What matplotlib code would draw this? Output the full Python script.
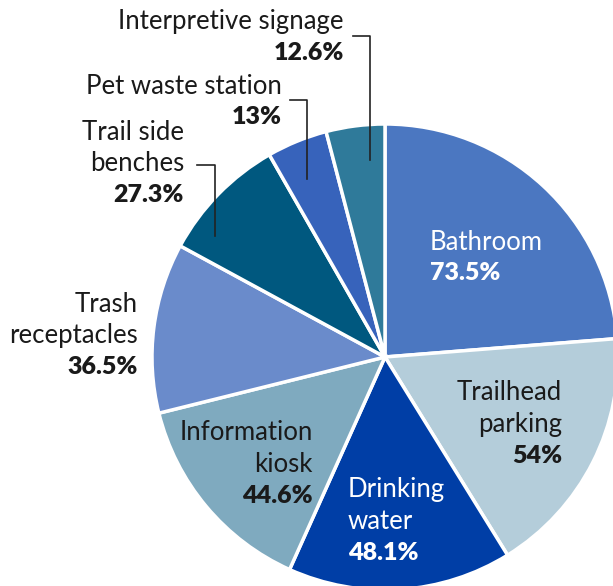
import matplotlib
matplotlib.use("Agg")
import matplotlib.pyplot as plt

categories = ["Bathroom", "Trailhead parking", "Drinking water", "Information kiosk",
              "Trash receptacles", "Trail side benches", "Pet waste station", "Interpretive signage"]
values = [73.5, 54, 48.1, 44.6, 36.5, 27.3, 13, 12.6]
pct_labels = ["73.5%", "54%", "48.1%", "44.6%", "36.5%", "27.3%", "13%", "12.6%"]
colors = ["#4b77c1", "#b4cdda", "#003ea6", "#7faabf", "#6a8bcb", "#00587f", "#3763bb", "#2f7a9a"]

W, H = 613, 586
fig = plt.figure(figsize=(W / 100, H / 100), dpi=100)
ax = fig.add_axes([0, 0, 1, 1])

cx, cy, R = 385, 357, 233
wedges, _ = ax.pie(values, colors=colors, startangle=90, counterclock=False,
                   radius=R, center=(cx, cy),
                   wedgeprops=dict(edgecolor="white", linewidth=2.5))
# y axis is inverted below, so mirror wedge angles to keep clockwise order
for w in wedges:
    t1, t2 = w.theta1, w.theta2
    w.set_theta1(-t2)
    w.set_theta2(-t1)
ax.set_xlim(0, W)
ax.set_ylim(H, 0)
ax.set_aspect("equal")
ax.axis("off")

FAM = ["Lato", "DejaVu Sans"]
FS = 18.5
LH = 31.5

def label(x, y, name_lines, pct, ha, color):
    for i, ln in enumerate(name_lines):
        ax.text(x, y + i * LH, ln, ha=ha, va="center", fontsize=FS, fontweight="normal",
                family=FAM, color=color)
    ax.text(x, y + len(name_lines) * LH, pct, ha=ha, va="center", fontsize=18,
            fontweight="heavy", family=FAM, color=color)

dark = "#1a1a1a"
label(430, 242, ["Bathroom"], pct_labels[0], "left", "white")
label(562, 393, ["Trailhead", "parking"], pct_labels[1], "right", dark)
label(348, 490, ["Drinking", "water"], pct_labels[2], "left", "white")
label(313, 433, ["Information", "kiosk"], pct_labels[3], "right", dark)
label(138, 304, ["Trash", "receptacles"], pct_labels[4], "right", dark)
label(184, 132, ["Trail side", "benches"], pct_labels[5], "right", dark)
label(282, 86, ["Pet waste station"], pct_labels[6], "right", dark)
label(344, 22, ["Interpretive signage"], pct_labels[7], "right", dark)

# leader lines
lk = dict(color="#222222", linewidth=1.2)
ax.plot([353, 370, 370], [36, 36, 160], **lk)
ax.plot([290, 307, 307], [100, 100, 179], **lk)
ax.plot([197, 215, 215], [165, 165, 236], **lk)

fig.savefig("out.png", dpi=100)
